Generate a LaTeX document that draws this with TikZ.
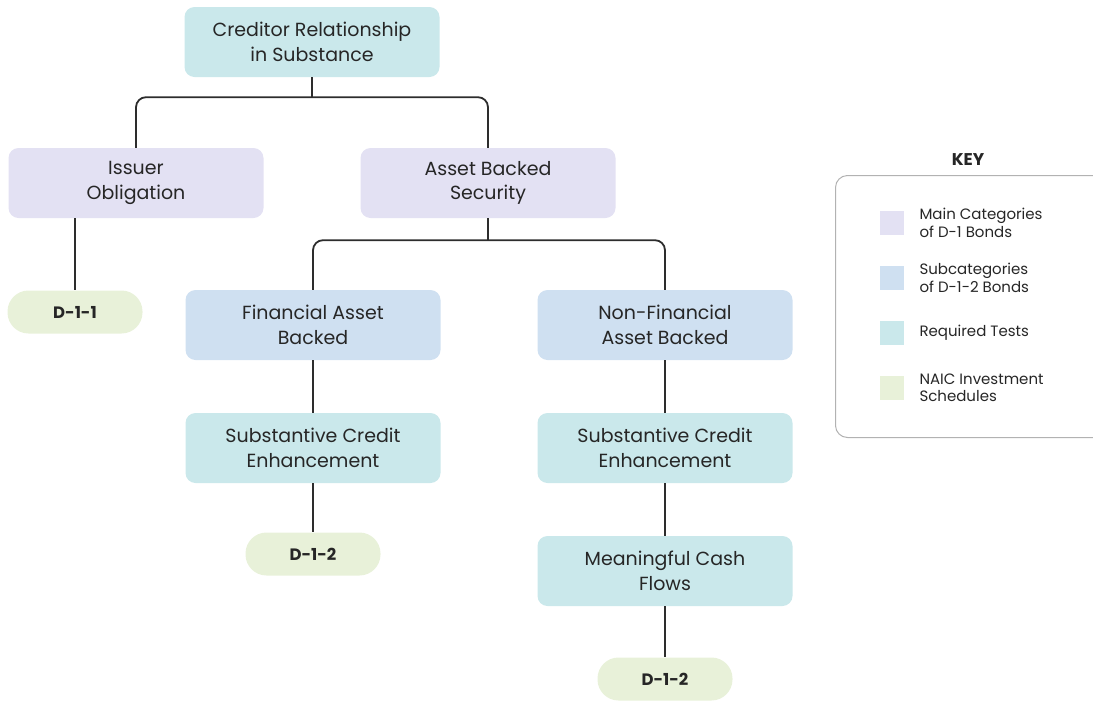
\documentclass[tikz,border=0pt]{standalone}
\usepackage{fontspec}
\setmainfont{Poppins}
\usetikzlibrary{positioning,calc}

\definecolor{maincat}{RGB}{227,225,243}
\definecolor{subcat}{RGB}{207,224,241}
\definecolor{testcol}{RGB}{202,232,235}
\definecolor{schedcol}{RGB}{232,241,217}
\definecolor{linecol}{RGB}{45,45,45}

\begin{document}
\begin{tikzpicture}[
  x=1pt, y=-1pt,
  font=\fontsize{19}{24.5}\selectfont,
  catbox/.style={
    rounded corners=10pt, align=center, text=black!85,
    minimum width=255pt, minimum height=70pt, inner sep=0pt
  },
  mainbox/.style={catbox, fill=maincat},
  subbox/.style={catbox, fill=subcat},
  testbox/.style={catbox, fill=testcol},
  schedbox/.style={
    rounded corners=21pt, fill=schedcol, text=black!85,
    minimum width=135pt, minimum height=43pt, inner sep=0pt,
    font=\fontsize{16.5}{20}\selectfont\bfseries
  },
  link/.style={draw=linecol, line width=1.8pt},
  swatch/.style={fill=#1, minimum size=24pt, inner sep=0pt},
  keylbl/.style={font=\fontsize{15}{17.5}\selectfont, align=left, anchor=west, text=black!85}
]
\useasboundingbox (0,0) rectangle (1093,702);

% =============================================================
% tree
% =============================================================
\node[testbox] (cred) at (312,42) {Creditor Relationship\\in Substance};

\node[mainbox] (issuer) at (136,183) {Issuer\\Obligation};
\node[mainbox] (abs) at (488,183) {Asset Backed\\Security};

\node[schedbox] (d11) at (75,312) {D-1-1};

\node[subbox] (fin) at (313,325) {Financial Asset\\Backed};
\node[subbox] (nonfin) at (665,325) {Non-Financial\\Asset Backed};

\node[testbox] (sceL) at (313,448) {Substantive Credit\\Enhancement};
\node[testbox] (sceR) at (665,448) {Substantive Credit\\Enhancement};

\node[schedbox] (d12L) at (313,554) {D-1-2};
\node[testbox] (cash) at (665,571) {Meaningful Cash\\Flows};
\node[schedbox] (d12R) at (665,679) {D-1-2};

% =============================================================
% connectors
% =============================================================
\coordinate (split1) at ($(cred.south)+(0,20)$);
\coordinate (split2) at ($(abs.south)+(0,22)$);

\draw[link] (cred.south) -- (split1);
\draw[link, rounded corners=10pt] (issuer.north) |- (split1) -| (abs.north);
\draw[link] (abs.south) -- (split2);
\draw[link, rounded corners=10pt] (fin.north) |- (split2) -| (nonfin.north);

\draw[link] (d11.north |- issuer.south) -- (d11.north);
\draw[link] (fin.south) -- (sceL.north);
\draw[link] (sceL.south) -- (d12L.north);
\draw[link] (nonfin.south) -- (sceR.north);
\draw[link] (sceR.south) -- (cash.north);
\draw[link] (cash.south) -- (d12R.north);

% =============================================================
% key
% =============================================================
\node[font=\fontsize{17}{20}\selectfont\bfseries, text=black!85] (keyttl) at (968,160) {KEY};
\node[draw=black!30, line width=1pt, rounded corners=12pt,
      minimum width=270pt, minimum height=262pt, anchor=north west] (keybox) at (835,175) {};

\node[swatch=maincat] (kmain) at (892,223) {};
\node[keylbl] at (916,223) {Main Categories\\of D-1 Bonds};
\node[swatch=subcat] (ksub) at (892,278) {};
\node[keylbl] at (916,278) {Subcategories\\of D-1-2 Bonds};
\node[swatch=testcol] (ktest) at (892,333) {};
\node[keylbl] at (916,333) {Required Tests};
\node[swatch=schedcol] (ksched) at (892,388) {};
\node[keylbl] at (916,388) {NAIC Investment\\Schedules};

\end{tikzpicture}
\end{document}
